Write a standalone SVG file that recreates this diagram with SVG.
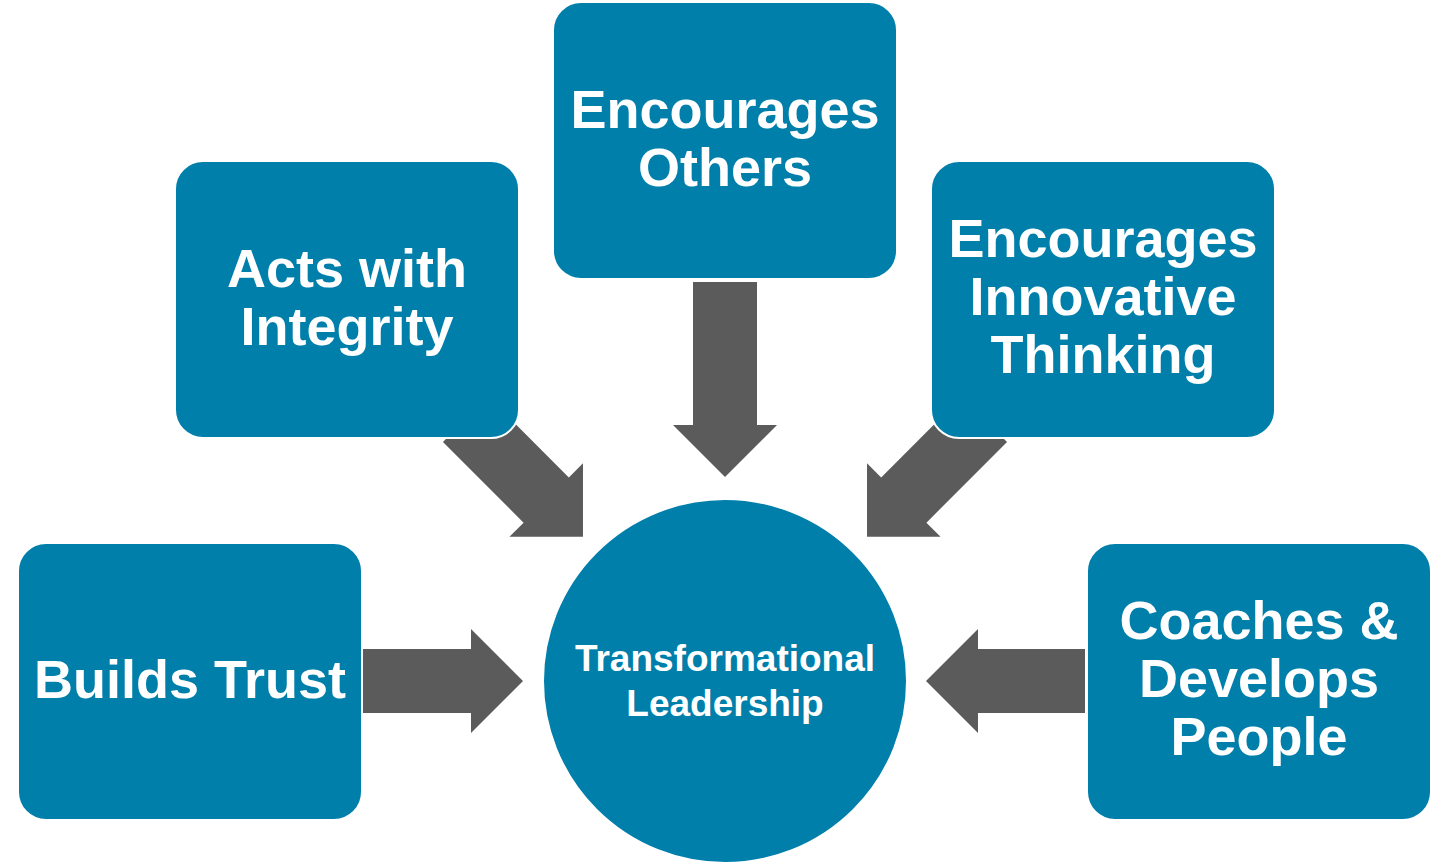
<svg xmlns="http://www.w3.org/2000/svg" width="1448" height="867" viewBox="0 0 1448 867">
<style>
.box{fill:#007FAB;stroke:#FFFFFF;stroke-width:2}
.arrow{fill:#5B5B5B}
.t{fill:#FFFFFF;font-family:"Liberation Sans",Arial,sans-serif;font-weight:bold;font-size:54px;text-anchor:middle}
.c{fill:#FFFFFF;font-family:"Liberation Sans",Arial,sans-serif;font-weight:bold;font-size:37px;text-anchor:middle}
</style>
<rect width="1448" height="867" fill="#FFFFFF"/>
<g id="connectors">
<path class="arrow" transform="translate(363,681)" d="M0,-32 H108 V-52 L160,0 L108,52 V32 H0 Z"/>
<path class="arrow" transform="translate(1085,681) rotate(180)" d="M0,-32 H107 V-52 L159,0 L107,52 V32 H0 Z"/>
<path class="arrow" transform="translate(725,282) rotate(90)" d="M0,-32 H143 V-52 L195,0 L143,52 V32 H0 Z"/>
<path class="arrow" transform="translate(465.6,419.4) rotate(45)" d="M0,-32 H114 V-52 L166,0 L114,52 V32 H0 Z"/>
<path class="arrow" transform="translate(984.4,419.4) rotate(135)" d="M0,-32 H114 V-52 L166,0 L114,52 V32 H0 Z"/>
</g>
<g id="node-center">
<circle class="box" cx="725" cy="681" r="182"/>
<text class="c" x="725" y="671">Transformational</text>
<text class="c" x="725" y="716">Leadership</text>
</g>
<g id="node-encourages-others">
<rect class="box" x="553" y="2" width="344" height="277" rx="28"/>
<text class="t" x="725" y="128">Encourages</text>
<text class="t" x="725" y="186">Others</text>
</g>
<g id="node-acts-with-integrity">
<rect class="box" x="175" y="161" width="344" height="277" rx="28"/>
<text class="t" x="347" y="287">Acts with</text>
<text class="t" x="347" y="345">Integrity</text>
</g>
<g id="node-innovative-thinking">
<rect class="box" x="931" y="161" width="344" height="277" rx="28"/>
<text class="t" x="1103" y="257">Encourages</text>
<text class="t" x="1103" y="315">Innovative</text>
<text class="t" x="1103" y="373">Thinking</text>
</g>
<g id="node-builds-trust">
<rect class="box" x="18" y="543" width="344" height="277" rx="28"/>
<text class="t" x="190" y="698">Builds Trust</text>
</g>
<g id="node-coaches">
<rect class="box" x="1087" y="543" width="344" height="277" rx="28"/>
<text class="t" x="1259" y="639">Coaches &amp;</text>
<text class="t" x="1259" y="697">Develops</text>
<text class="t" x="1259" y="755">People</text>
</g>
</svg>
